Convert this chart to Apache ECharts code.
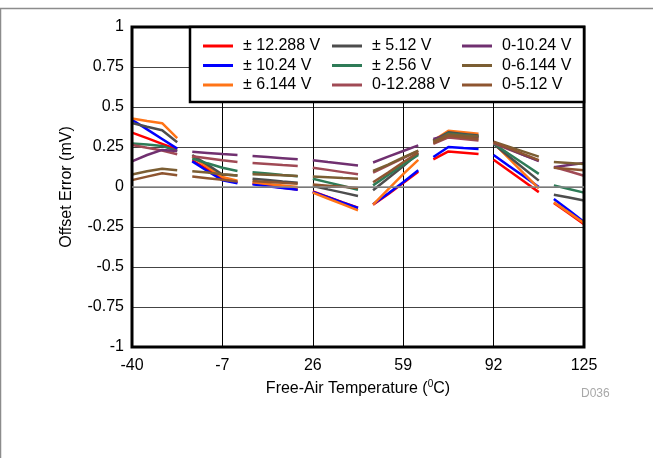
<!DOCTYPE html>
<html>
<head>
<meta charset="utf-8">
<script src="https://cdn.jsdelivr.net/npm/echarts@6/dist/echarts.min.js"></script>
<style>
html,body{margin:0;padding:0;background:#fff;}
#chart{width:653px;height:458px;}
</style>
</head>
<body>
<div id="chart"></div>
<script>
// Temperatures of the plotted points (8 sweeps of 4 points, last one clipped at 125)
const temps = [-40,-34.5,-29,-23.5, -18,-12.5,-7,-1.5, 4,9.5,15,20.5, 26,31.5,37,42.5,
  48,53.5,59,64.5, 70,75.5,81,86.5, 92,97.5,103,108.5, 114,119.5,125];
const segLen = 4;
const xTicks = [-40, -7, 26, 59, 92, 125];
const yTicks = [-1, -0.75, -0.5, -0.25, 0, 0.25, 0.5, 0.75, 1];

const seriesNames = ['± 12.288 V','± 10.24 V','± 6.144 V','± 5.12 V','± 2.56 V','0-12.288 V','0-10.24 V','0-6.144 V','0-5.12 V'];
const seriesColors = ['#FF0000','#0000FF','#FF7417','#4D4D4D','#2E7B57','#A04A55','#703070','#7B5E33','#8E5530'];

const vPm12288 = [0.34,0.305,0.27,0.235, 0.167,0.11,0.052,0.03, 0.02,0.008,-0.004,-0.015, -0.027,-0.062,-0.097,-0.13,
  -0.11,-0.045,0.025,0.095, 0.173,0.222,0.214,0.206, 0.17,0.103,0.036,-0.032, -0.1,-0.165,-0.232];
const vPm1024 = [0.42,0.36,0.30,0.24, 0.16,0.1,0.042,0.024, 0.017,0.005,-0.006,-0.017, -0.031,-0.064,-0.098,-0.131,
  -0.108,-0.04,0.03,0.105, 0.188,0.25,0.243,0.237, 0.2,0.133,0.067,0.0, -0.075,-0.145,-0.218];
const vPm6144 = [0.428,0.412,0.399,0.305, 0.19,0.125,0.063,0.04, 0.029,0.019,0.01,0.0, -0.035,-0.072,-0.109,-0.146,
  -0.11,-0.015,0.08,0.17, 0.29,0.352,0.343,0.333, 0.275,0.18,0.085,-0.008, -0.095,-0.16,-0.225];
const vPm512 = [0.40,0.377,0.355,0.28, 0.2,0.14,0.078,0.072, 0.052,0.044,0.035,0.027, 0.006,-0.015,-0.035,-0.056,
  -0.02,0.055,0.13,0.21, 0.29,0.342,0.332,0.322, 0.268,0.192,0.116,0.04, -0.048,-0.066,-0.084];
const vPm256 = [0.272,0.265,0.257,0.225, 0.178,0.148,0.12,0.1, 0.092,0.084,0.075,0.067, 0.052,0.029,0.006,-0.017,
  0.01,0.075,0.14,0.2, 0.285,0.335,0.325,0.315, 0.272,0.208,0.145,0.082, 0.01,-0.012,-0.035];
const v012288 = [0.263,0.245,0.228,0.205, 0.192,0.18,0.167,0.156, 0.15,0.144,0.137,0.131, 0.121,0.107,0.093,0.079,
  0.09,0.135,0.18,0.225, 0.27,0.31,0.3,0.29, 0.275,0.235,0.2,0.165, 0.125,0.098,0.07];
const v01024 = [0.16,0.2,0.232,0.225, 0.22,0.213,0.206,0.2, 0.194,0.187,0.18,0.173, 0.167,0.156,0.146,0.135,
  0.153,0.19,0.225,0.26, 0.3,0.325,0.318,0.31, 0.28,0.24,0.2,0.162, 0.124,0.137,0.15];
const v06144 = [0.078,0.098,0.114,0.104, 0.098,0.09,0.08,0.072, 0.08,0.077,0.073,0.069, 0.065,0.061,0.056,0.052,
  0.1,0.14,0.185,0.228, 0.285,0.33,0.322,0.315, 0.283,0.252,0.221,0.19, 0.156,0.15,0.143];
const v0512 = [0.043,0.065,0.086,0.074, 0.065,0.055,0.045,0.035, 0.0375,0.032,0.026,0.021, 0.015,0.008,0.001,-0.006,
  0.03,0.09,0.155,0.215, 0.275,0.32,0.31,0.3, 0.28,0.243,0.205,0.168, 0.12,0.112,0.104];

const allValues = [vPm12288, vPm1024, vPm6144, vPm512, vPm256, v012288, v01024, v06144, v0512];

function buildData(vals) {
  const out = [];
  for (let i = 0; i < vals.length; i++) {
    out.push([temps[i], vals[i]]);
    if (i % segLen === segLen - 1 && i < vals.length - 1) {
      out.push([(temps[i] + temps[i + 1]) / 2, '-']);
    }
  }
  return out;
}

const FONT = 'Liberation Sans, Arial, sans-serif';

const series = allValues.map((vals, k) => ({
  name: seriesNames[k],
  type: 'line',
  data: buildData(vals),
  showSymbol: false,
  symbol: 'none',
  connectNulls: false,
  lineStyle: { width: 2.5, color: seriesColors[k] },
  itemStyle: { color: seriesColors[k] },
  z: 2 + k * 0.01,
  animation: false
}));
series[0].markLine = {
  silent: true, symbol: 'none', animation: false,
  label: { show: false },
  lineStyle: { color: '#8a8a8a', width: 1.6, type: 'solid' },
  data: [{ yAxis: 0 }]
};

const legendCommon = {
  orient: 'vertical', itemGap: 3.5, itemWidth: 30, itemHeight: 3, icon: 'rect', padding: 0,
  textStyle: { fontSize: 16, color: '#000', fontFamily: FONT, padding: [0, 0, 0, 5] },
  selectedMode: false, z: 10
};

const chart = echarts.init(document.getElementById('chart'), null, { renderer: 'canvas' });
chart.setOption({
  animation: false,
  backgroundColor: '#fff',
  grid: { left: 132, top: 27, width: 452, height: 320, show: true, borderColor: '#000', borderWidth: 3, backgroundColor: 'transparent', z: 5 },
  xAxis: {
    type: 'value', min: -40, max: 125, interval: 33,
    axisLine: { show: false }, axisTick: { show: false },
    splitLine: { show: true, lineStyle: { color: '#000', width: 1 } },
    axisLabel: { fontSize: 16, color: '#000', fontFamily: FONT, margin: 11,
      formatter: v => xTicks.includes(v) ? String(v) : '' },
    name: 'Free-Air Temperature ({sup|0}C)',
    nameLocation: 'middle', nameGap: 31,
    nameTextStyle: { fontSize: 16, color: '#000', fontFamily: FONT,
      rich: { sup: { fontSize: 10, fontFamily: FONT, color: '#000', padding: [0, 0, 9, 0] } } }
  },
  yAxis: {
    type: 'value', min: -1, max: 1, interval: 0.25,
    axisLine: { show: false }, axisTick: { show: false },
    splitLine: { show: true, lineStyle: { color: '#444', width: 1.2 } },
    axisLabel: { fontSize: 16, color: '#000', fontFamily: FONT, margin: 8,
      formatter: v => yTicks.includes(v) ? String(v) : '' },
    name: 'Offset Error (mV)', nameLocation: 'middle', nameGap: 57,
    nameTextStyle: { fontSize: 16, color: '#000', fontFamily: FONT }
  },
  legend: [
    Object.assign({}, legendCommon, { left: 203, top: 38, data: seriesNames.slice(0, 3) }),
    Object.assign({}, legendCommon, { left: 332, top: 38, data: seriesNames.slice(3, 6) }),
    Object.assign({}, legendCommon, { left: 462, top: 38, data: seriesNames.slice(6, 9) })
  ],
  graphic: [
    { type: 'rect', z: 0, silent: true, shape: { x: 0.5, y: 8.5, width: 720, height: 520 },
      style: { fill: 'none', stroke: '#8c8c8c', lineWidth: 1.5 } },
    { type: 'rect', z: 8, silent: true, shape: { x: 190, y: 27, width: 394, height: 75 },
      style: { fill: '#fff', stroke: '#000', lineWidth: 2.5 } },
    { type: 'text', z: 8, silent: true, left: 581, top: 388,
      style: { text: 'D036', fontSize: 12, fill: '#a8a8a8', fontFamily: FONT } }
  ],
  series: series
});
</script>
</body>
</html>
